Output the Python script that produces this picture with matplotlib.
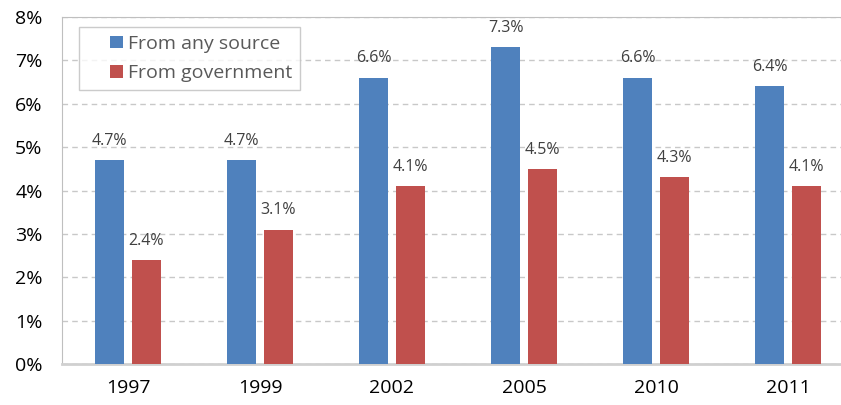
import numpy as np
import matplotlib.pyplot as plt
from matplotlib.patches import Rectangle
from matplotlib.legend_handler import HandlerPatch

years = ["1997", "1999", "2002", "2005", "2010", "2011"]
any_source = [4.7, 4.7, 6.6, 7.3, 6.6, 6.4]
government = [2.4, 3.1, 4.1, 4.5, 4.3, 4.1]

BLUE = "#4F81BD"
RED = "#C0504D"

plt.rcParams["font.family"] = ["Open Sans", "DejaVu Sans"]

fig = plt.figure(figsize=(8.41, 4.05), dpi=100)
ax = fig.add_axes([62 / 841, 41 / 405, 792 / 841, 347 / 405])

x = np.arange(len(years))
w = 0.22
off = 0.14
b1 = ax.bar(x - off, any_source, w, color=BLUE, zorder=3)
b2 = ax.bar(x + off, government, w, color=RED, zorder=3)

for bars, vals in ((b1, any_source), (b2, government)):
    for rect, v in zip(bars, vals):
        ax.text(rect.get_x() + rect.get_width() / 2, v + 0.26, f"{v:.1f}%",
                ha="center", va="bottom", fontsize=11.5, color="#404040")

ax.set_xlim(-0.5, len(years) - 0.5)
ax.set_ylim(0, 8)
ax.set_yticks(range(0, 9))
ax.set_yticklabels([f"{i}%" for i in range(0, 9)])
ax.set_xticks(x)
ax.set_xticklabels(years)
ax.tick_params(axis="both", length=0, labelsize=14, colors="black")
ax.tick_params(axis="x", pad=11)
ax.tick_params(axis="y", pad=14)
ax.yaxis.grid(True, linestyle=(0, (4, 3)), color="#C8C8C8", linewidth=1, zorder=0)

for s in ("left", "top", "right"):
    ax.spines[s].set_color("#BFBFBF")
ax.spines["bottom"].set_color("#D0D0D0")
ax.spines["bottom"].set_linewidth(2)


# square legend key pushed to the right end of the handle box
def right_square(legend, orig_handle, xdescent, ydescent, width, height, fontsize):
    s = height * 0.95
    return Rectangle((width - xdescent - s, -ydescent + (height - s) / 2), s, s)


leg = ax.legend([b1.patches[0], b2.patches[0]], ["From any source", "From government"],
                loc="upper left", bbox_to_anchor=(17 / 792, 1 - 10 / 347),
                fontsize=14, frameon=True, fancybox=False, handlelength=1.85,
                handleheight=0.65, handletextpad=0.25, borderpad=0.4,
                labelspacing=0.6, borderaxespad=0,
                handler_map={Rectangle: HandlerPatch(patch_func=right_square)})
leg.get_frame().set_edgecolor("#BFBFBF")
leg.get_frame().set_linewidth(1)
for t in leg.get_texts():
    t.set_color("#595959")

fig.savefig("out.png", dpi=100)
